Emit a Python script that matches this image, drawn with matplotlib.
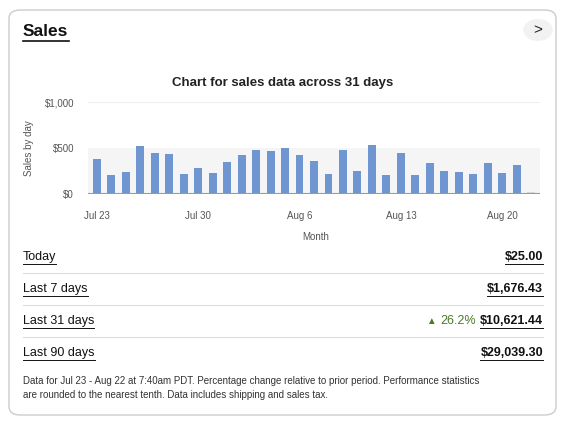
import matplotlib.pyplot as plt
from matplotlib.patches import FancyBboxPatch, Rectangle
from matplotlib.lines import Line2D

plt.rcParams['font.family'] = ['Liberation Sans', 'DejaVu Sans']

sales = [380, 204, 243, 521, 444, 433, 215, 282, 225, 352,
         423, 479, 468, 496, 423, 363, 215, 479, 254, 532,
         208, 451, 208, 342, 254, 243, 215, 335, 225, 317, 25]
tick_pos = [0, 7, 14, 21, 28]
tick_labels = ["Jul 23", "Jul 30", "Aug 6", "Aug 13", "Aug 20"]
rows = ["Today", "Last 7 days", "Last 31 days", "Last 90 days"]
row_values = ["$25.00", "$1,676.43", "$10,621.44", "$29,039.30"]

W, H = 565, 422
fig = plt.figure(figsize=(W / 100, H / 100), dpi=100)

def fx(px):
    return px / W

def fy(py):
    return 1 - py / H

card = FancyBboxPatch((fx(9), fy(415)), fx(547), fy(10) - fy(415),
                      boxstyle="round,pad=0,rounding_size=0.02",
                      transform=fig.transFigure, fc="white", ec="#cccccc", lw=1, zorder=-10)
fig.patches.append(card)

fig.text(fx(23), fy(32), "Sales", fontsize=12.5, fontweight="bold", va="center", color="#111")
fig.add_artist(Line2D([fx(23), fx(69)], [fy(41), fy(41)], color="#111", lw=1.2))
fig.patches.append(plt.Circle((fx(538), fy(30)), 11 / H, transform=fig.transFigure,
                              fc="#f2f2f2", ec="none", zorder=-5))
fig.text(fx(538), fy(30), ">", fontsize=11, ha="center", va="center", color="#222")

fig.text(fx(283), fy(83), "Chart for sales data across 31 days", fontsize=9.5,
         fontweight="bold", ha="center", va="center", color="#222")

ax = fig.add_axes([fx(88), fy(194), fx(540) - fx(88), fy(102) - fy(194)])
ax.patch.set_alpha(0)
ax.add_patch(Rectangle((-0.6, 0), 31.2, 500, fc="#f5f5f5", ec="none", zorder=0))
colors = ["#7096d1"] * 30 + ["#d9d9d9"]
ax.bar(range(len(sales)), sales, width=0.55, color=colors, zorder=2)
ax.axhline(1000, color="#eeeeee", lw=0.8)
ax.axhline(0, color="#999999", lw=1.5, zorder=3)
ax.set_xlim(-0.6, 30.6)
ax.set_ylim(0, 1000)
ax.set_yticks([0, 500, 1000], ["$0", "$500", "$1,000"])
ax.set_xticks(tick_pos, tick_labels)
ax.tick_params(length=0, labelsize=7, colors="#555555")
ax.tick_params(axis="x", pad=12)
ax.tick_params(axis="y", pad=10)
for s in ax.spines.values():
    s.set_visible(False)
ax.set_ylabel("Sales by day", fontsize=7, color="#555555", labelpad=8)
fig.text(fx(316), fy(237), "Month", fontsize=7, ha="center", va="center", color="#555555")

row_y = [257, 289, 321, 353]
for i, (name, val, y) in enumerate(zip(rows, row_values, row_y)):
    fig.text(fx(23), fy(y), name, fontsize=9, va="center", color="#111")
    fig.text(fx(543), fy(y), val, fontsize=9, fontweight="bold", ha="right", va="center", color="#111")
    if i < 3:
        fig.add_artist(Line2D([fx(23), fx(543)], [fy(y + 16), fy(y + 16)], color="#dddddd", lw=0.8))

# underlines for row labels and values
fig.canvas.draw()
r = fig.canvas.get_renderer()
for t in list(fig.texts):
    if t.get_text() in rows + row_values:
        bb = t.get_window_extent(r)
        yy = (bb.y0 - 1) / H
        fig.add_artist(Line2D([bb.x0 / W, bb.x1 / W], [yy, yy], color="#111", lw=0.7))

fig.text(fx(476), fy(321), "26.2%", fontsize=9, ha="right", va="center", color="#4a7a2a")
fig.text(fx(431), fy(321), "\u25B2", fontsize=7, ha="center", va="center", color="#4a7a2a")

fig.text(fx(23), fy(381), "Data for Jul 23 - Aug 22 at 7:40am PDT. Percentage change relative to prior period. Performance statistics",
         fontsize=7, va="center", color="#333")
fig.text(fx(23), fy(395), "are rounded to the nearest tenth. Data includes shipping and sales tax.",
         fontsize=7, va="center", color="#333")

fig.savefig("out.png", dpi=100)
